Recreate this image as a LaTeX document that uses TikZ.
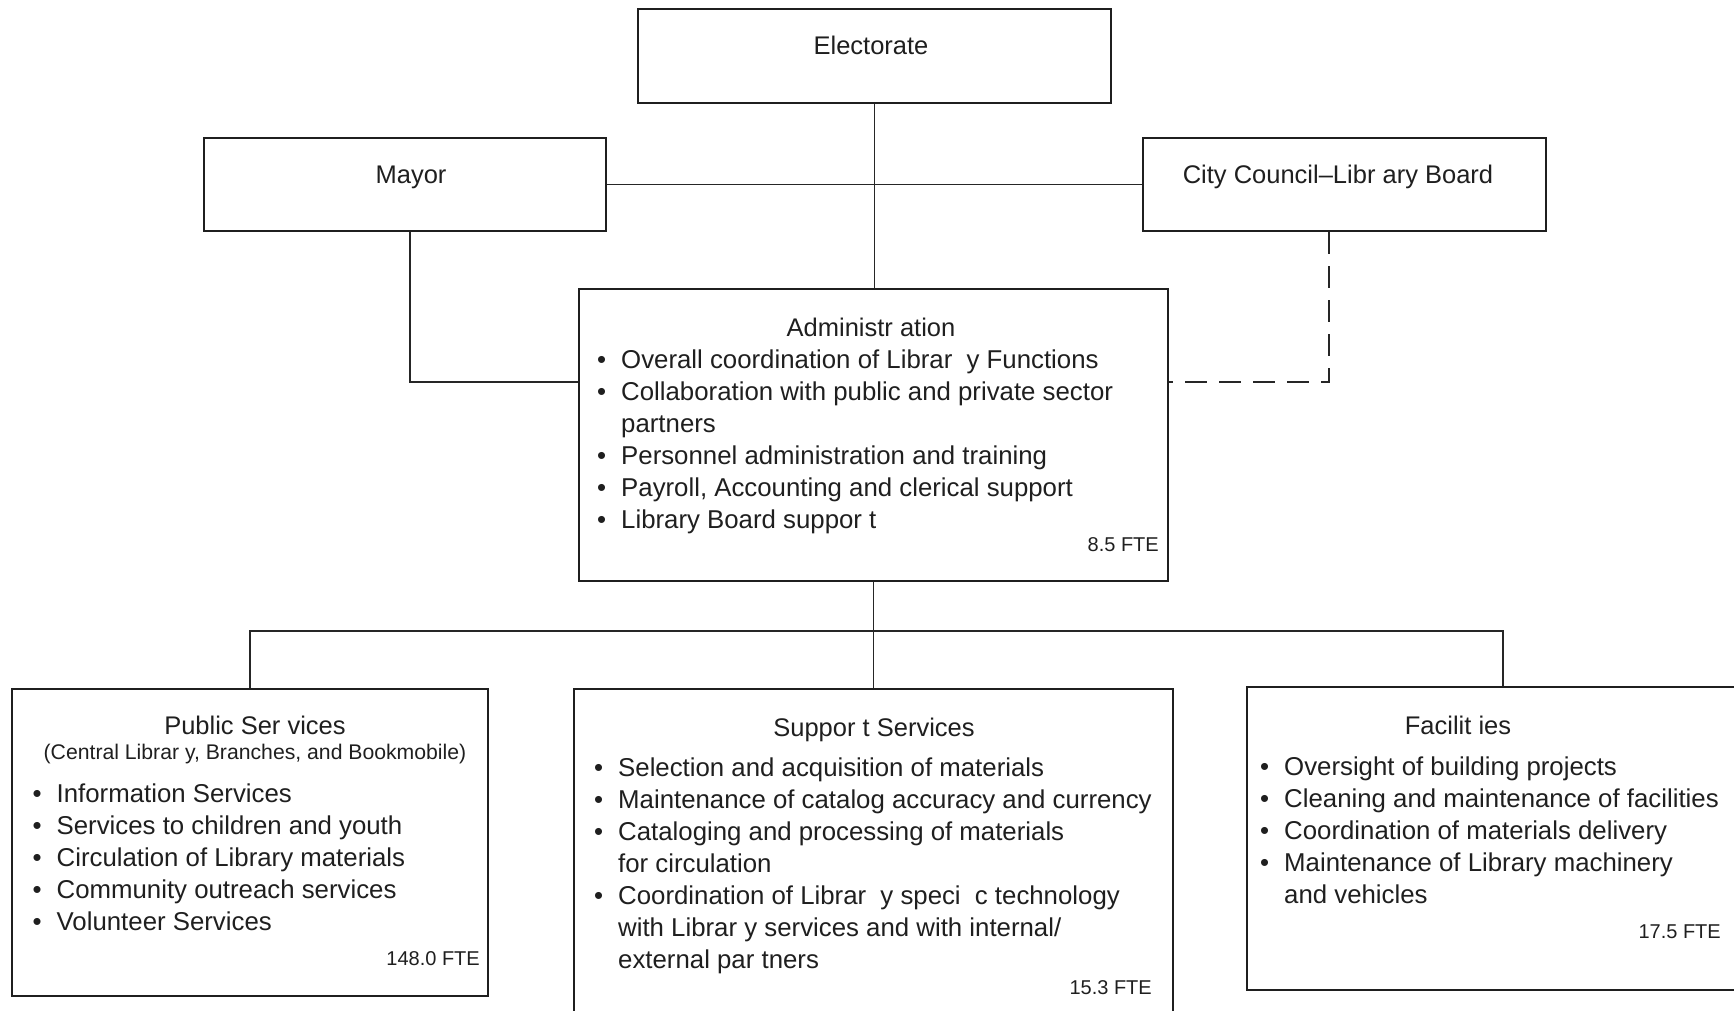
\documentclass[tikz,border=0pt]{standalone}
\usepackage{fontspec}
\setmainfont{Liberation Sans}
\usetikzlibrary{calc}
\newcommand{\itm}{\strut\makebox[24pt][l]{\textbullet}}
\newcommand{\ind}{\hspace*{24pt}}

\begin{document}
\begin{tikzpicture}[x=1pt, y=-1pt,
		unit/.style={draw=black!88, line width=2.6pt, rectangle, inner sep=0pt},
		link/.style={draw=black!85, line width=1.4pt},
		dashlink/.style={link, dash pattern=on 22pt off 12pt},
		head/.style={font=\fontsize{25.5}{32}\selectfont, text=black!88, anchor=base, inner sep=0pt},
		sub/.style={font=\fontsize{21.2}{26}\selectfont, text=black!88, anchor=base, inner sep=0pt},
		items/.style={font=\fontsize{25.8}{32}\selectfont, text=black!88, align=left, anchor=north west, inner sep=0pt},
		fte/.style={font=\fontsize{20}{24}\selectfont, text=black!88, anchor=base east, inner sep=0pt}]
		%%%%% START %%%%%
		
		\useasboundingbox (0, 0) rectangle (1734, 1011);
		
		% boxes
		\node[unit, minimum width=473pt, minimum height=94pt] (elect) at (874.5, 56) {};
		\node[unit, minimum width=402pt, minimum height=93pt] (mayor) at (405, 184.5) {};
		\node[unit, minimum width=403pt, minimum height=93pt] (council) at (1344.5, 184.5) {};
		\node[unit, minimum width=589pt, minimum height=292pt] (admin) at (873.5, 435) {};
		\node[unit, minimum width=476pt, minimum height=307pt] (public) at (250, 842.5) {};
		\node[unit, minimum width=599pt, minimum height=346pt] (support) at (873.5, 862) {};
		\node[unit, minimum width=512pt, minimum height=303pt] (facil) at (1503, 838.5) {};
		
		% titles
		\node[head] (elect-t) at (871, 55) {Electorate};
		\node[head] (mayor-t) at (411, 184) {Mayor};
		\node[head] (council-t) at (1338, 184) {City Council--Libr ary Board};
		\node[head] (admin-t) at (871, 336) {Administr ation};
		\node[head] (public-t) at (255, 734) {Public Ser vices};
		\node[sub] (public-s) at (255, 759) {(Central Librar y, Branches, and Bookmobile)};
		\node[head] (support-t) at (874, 736) {Suppor t Services};
		\node[head] (facil-t) at (1458, 734) {Facilit ies};
		
		% lists
		\node[items] (admin-l) at (597, 345.6) {%
			\itm Overall coordination of Librar\hspace{0.55em}y Functions\\
			\itm Collaboration with public and private sector\\
			\ind partners\\
			\itm Personnel administration and training\\
			\itm Payroll, Accounting and clerical support\\
			\itm Library Board suppor t};
		\node[items] (public-l) at (32.5, 779.6) {%
			\itm Information Services\\
			\itm Services to children and youth\\
			\itm Circulation of Library materials\\
			\itm Community outreach services\\
			\itm Volunteer Services};
		\node[items] (support-l) at (594, 753.6) {%
			\itm Selection and acquisition of materials\\
			\itm Maintenance of catalog accuracy and currency\\
			\itm Cataloging and processing of materials\\
			\ind for circulation\\
			\itm Coordination of Librar\hspace{0.55em}y speci\hspace{0.55em}c technology\\
			\ind with Librar y services and with internal/\\
			\ind external par tners};
		\node[items] (facil-l) at (1260, 752.6) {%
			\itm Oversight of building projects\\
			\itm Cleaning and maintenance of facilities\\
			\itm Coordination of materials delivery\\
			\itm Maintenance of Library machinery\\
			\ind and vehicles};
		
		% staff counts
		\node[fte] (admin-f) at (1159, 551) {8.5 FTE};
		\node[fte] (public-f) at (480, 965) {148.0 FTE};
		\node[fte] (support-f) at (1152, 994) {15.3 FTE};
		\node[fte] (facil-f) at (1721, 938) {17.5 FTE};
		
		% lines
		\draw[link] (elect.south) -- (elect.south |- admin.north);
		\draw[link] (mayor.east) -- (council.west);
		\draw[link] ($(mayor.south)+(5, 0)$) |- ($(admin.north west)!0.32!(admin.south west)$);
		\draw[dashlink] ($(council.south)+(-15.5, 0)$) |- ($(admin.north east)!0.32!(admin.south east)$);
		
		\coordinate (hub) at ($(admin.south)+(0, 48.5)$);
		\draw[link] (admin.south) -- (support.north);
		\draw[link] (public.north) |- (facil.north |- hub) -- (facil.north);
		
		%%%%% END %%%%%
\end{tikzpicture}
\end{document}
